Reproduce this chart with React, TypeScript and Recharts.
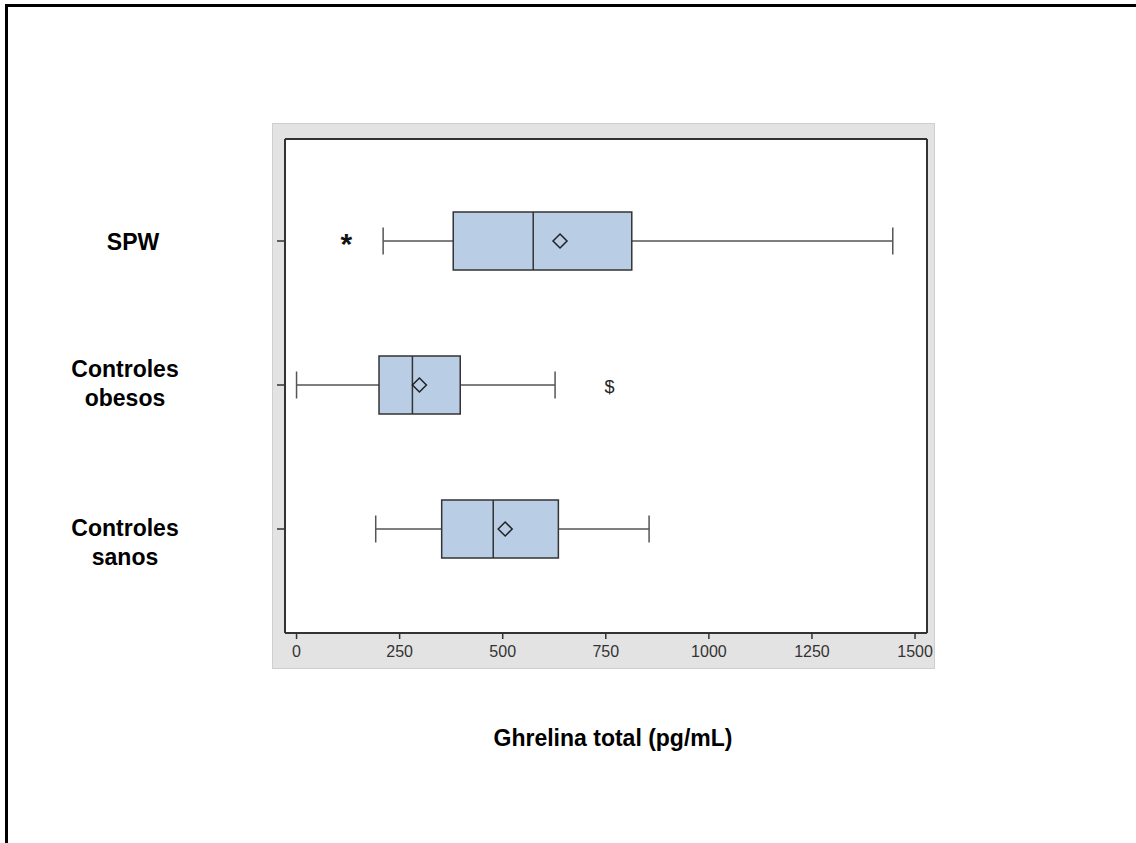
import React from 'react'
import {
  ComposedChart, Bar, XAxis, YAxis, CartesianGrid
} from 'recharts';

// ghrelina total (pg/mL) por grupo
const groups = ['SPW', 'Controles obesos', 'Controles sanos'];
const groupLines = [['SPW'], ['Controles', 'obesos'], ['Controles', 'sanos']];
const lowWhisker = [210, 0, 192];
const q1 = [380, 200, 352];
const median = [574, 281, 477];
const q3 = [813, 397, 635];
const highWhisker = [1446, 627, 855];
const means = [639, 298, 506];
const outlierValues = [121, 759, null];
const outlierMarks = ['*', '$', ''];
const xTicks = [0, 250, 500, 750, 1000, 1250, 1500];

const data = groups.map((name, i) => ({
  name,
  min: lowWhisker[i],
  q1: q1[i],
  median: median[i],
  q3: q3[i],
  max: highWhisker[i],
  mean: means[i],
  outlier: outlierValues[i],
  mark: outlierMarks[i],
}));

const FONT = '"Liberation Sans", Arial, sans-serif';
const LINE = '#333';

const BoxShape = (props: any) => {
  const { x, y, width, height, payload } = props;
  const { min, max } = payload;
  // bar spans min..max, so every other value maps linearly inside it
  const px = (v: number) => x + ((v - min) * width) / (max - min);
  const cy = y + height / 2;
  const cap = 13.5;
  const d = 7;
  const mx = px(payload.mean);
  return (
    <g>
      <line x1={px(min)} x2={px(payload.q1)} y1={cy} y2={cy} stroke="#555" strokeWidth={1.5} />
      <line x1={px(payload.q3)} x2={px(max)} y1={cy} y2={cy} stroke="#555" strokeWidth={1.5} />
      <line x1={px(min)} x2={px(min)} y1={cy - cap} y2={cy + cap} stroke="#555" strokeWidth={1.5} />
      <line x1={px(max)} x2={px(max)} y1={cy - cap} y2={cy + cap} stroke="#555" strokeWidth={1.5} />
      <rect x={px(payload.q1)} y={y} width={px(payload.q3) - px(payload.q1)} height={height}
        fill="#b9cde5" stroke={LINE} strokeWidth={1.5} />
      <line x1={px(payload.median)} x2={px(payload.median)} y1={y} y2={y + height} stroke={LINE} strokeWidth={1.5} />
      <path d={`M${mx - d},${cy} L${mx},${cy - d} L${mx + d},${cy} L${mx},${cy + d} Z`}
        fill="none" stroke="#222" strokeWidth={1.5} />
      {payload.outlier != null && payload.mark === '*' && (
        <text x={px(payload.outlier)} y={cy + 13} textAnchor="middle" fontFamily={FONT}
          fontWeight="bold" fontSize={30} fill="#111">*</text>
      )}
      {payload.outlier != null && payload.mark === '$' && (
        <text x={px(payload.outlier)} y={cy + 8} textAnchor="middle" fontFamily={FONT}
          fontSize={18} fill="#222">$</text>
      )}
    </g>
  );
};

const GroupTick = (props: any) => {
  const { x, y, payload } = props;
  const idx = groups.indexOf(payload.value);
  const lines = groupLines[idx] || [payload.value];
  const lh = 29;
  const shift = idx === 2 ? 13 : idx === 1 ? -2 : 1;
  const cx = idx === 0 ? x - 142 : x - 150;
  const top = y - ((lines.length - 1) * lh) / 2 + shift;
  return (
    <text x={cx} textAnchor="middle" fontFamily={FONT} fontWeight="bold" fontSize={23} fill="#000">
      {lines.map((l: string, i: number) => (
        <tspan key={i} x={cx} y={top + i * lh} dy="0.36em">{l}</tspan>
      ))}
    </text>
  );
};

const App = () => {
  return (
    <div style={{ position: 'absolute', left: 0, top: 0, width: 1136, height: 843, background: '#fff' }}>
      <div style={{
        position: 'absolute', left: 5, top: 4, width: 1140, height: 850,
        borderTop: '3px solid #000', borderLeft: '3px solid #000'
      }} />
      <div style={{
        position: 'absolute', left: 272, top: 123, width: 661, height: 544,
        background: '#e3e3e3', border: '1px solid #cfcfcf'
      }} />
      <div style={{ position: 'absolute', left: 0, top: 0 }}>
        <ComposedChart
          width={1136}
          height={843}
          data={data}
          layout="vertical"
          margin={{ top: 139, right: 209, bottom: 180, left: 225 }}
        >
          <CartesianGrid
            fill="#fff"
            stroke={LINE}
            strokeWidth={2}
            horizontalCoordinatesGenerator={({ offset }: any) => [offset.top, offset.top + offset.height]}
            verticalCoordinatesGenerator={({ offset }: any) => [offset.left, offset.left + offset.width]}
          />
          <XAxis
            type="number"
            domain={[-28, 1529]}
            ticks={xTicks}
            axisLine={false}
            tickLine={{ stroke: LINE, strokeWidth: 1.5 }}
            tickSize={6}
            tickMargin={7}
            tick={{ fill: '#333', fontSize: 16, fontFamily: FONT }}
            allowDataOverflow
          />
          <YAxis
            type="category"
            dataKey="name"
            width={60}
            axisLine={false}
            tickLine={{ stroke: LINE, strokeWidth: 1.5 }}
            tickSize={8}
            padding={{ top: 30, bottom: 32 }}
            tick={<GroupTick />}
          />
          <Bar
            dataKey={(d: any) => [d.min, d.max]}
            barSize={58}
            shape={<BoxShape />}
            isAnimationActive={false}
          />
        </ComposedChart>
      </div>
      <div style={{
        position: 'absolute', left: 613, top: 738, transform: 'translate(-50%, -50%)',
        fontFamily: FONT, fontWeight: 'bold', fontSize: 23, whiteSpace: 'nowrap', color: '#000'
      }}>
        Ghrelina total (pg/mL)
      </div>
    </div>
  )
}

export default App
